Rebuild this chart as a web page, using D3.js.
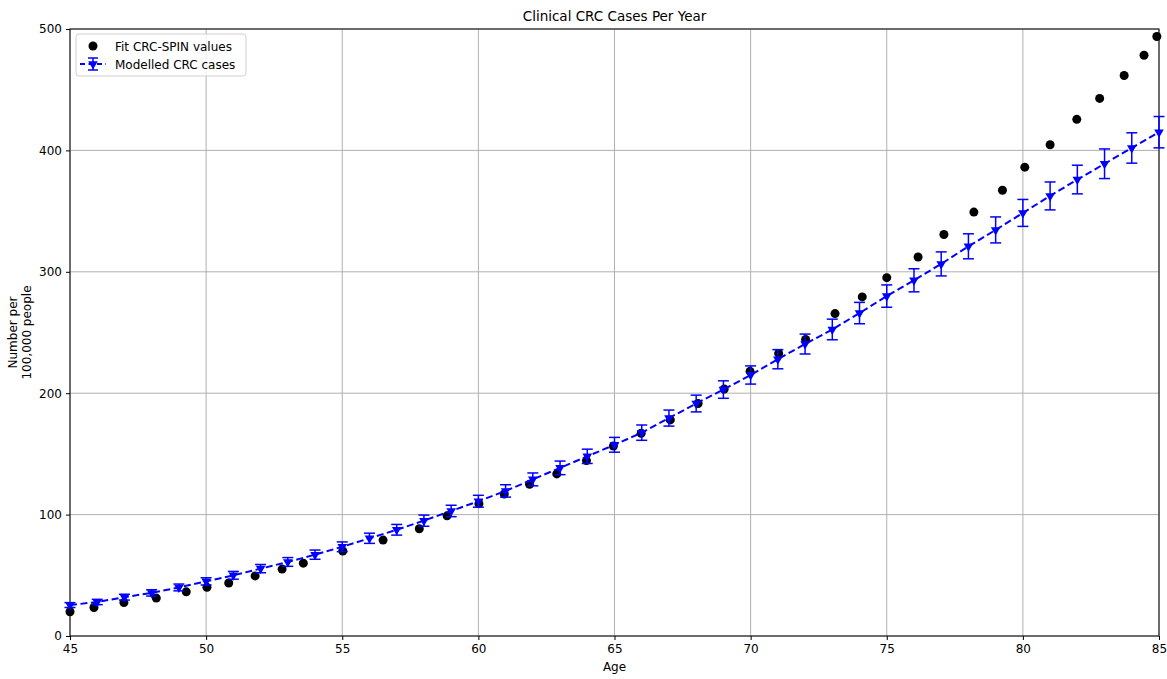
<!DOCTYPE html>
<html>
<head>
<meta charset="utf-8">
<script src="https://cdn.jsdelivr.net/npm/d3@7"></script>
<style>
  html, body { margin: 0; padding: 0; background: #fff; }
  svg { display: block; font-family: "DejaVu Sans", sans-serif; }
</style>
</head>
<body>
<div id="chart"></div>
<script>
// Fit CRC-SPIN values (age, cases per 100,000)
const fitAges = [45.0, 45.88, 46.98, 48.17, 49.27, 50.03, 50.83, 51.8, 52.79, 53.57,
  55.02, 56.5, 57.83, 58.85, 60.02, 60.95, 61.88, 62.88, 63.97, 64.96,
  65.98, 67.05, 68.07, 69.03, 69.98, 71.03, 72.02, 73.1, 74.1, 75.0,
  76.15, 77.1, 78.2, 79.25, 80.07, 81.0, 81.98, 82.82, 83.72, 84.45, 84.92]
const fitValues = [20, 23.5, 27.5, 31.2, 36.4, 40.1, 43.7, 49.5, 55.1, 60,
  70, 79, 88.3, 99, 109, 117, 125, 133.5, 144.5, 156.5,
  167, 178, 191.5, 203.5, 218, 232.8, 244.2, 265.6, 279.3, 295.2,
  312.2, 330.7, 349.2, 367.2, 386.2, 404.7, 425.6, 442.8, 461.7, 478.4, 493.8]

// Modelled CRC cases with error bars
const modelAges = [45, 46, 47, 48, 49, 50, 51, 52, 53, 54, 55, 56, 57, 58, 59, 60,
  61, 62, 63, 64, 65, 66, 67, 68, 69, 70, 71, 72, 73, 74, 75, 76, 77, 78, 79, 80,
  81, 82, 83, 84, 85]
const modelValues = [25.5, 28, 32, 35.5, 40, 45, 50, 55.5, 61, 67, 73.5, 80.5, 87.5, 95, 103, 111,
  119.5, 129, 138.5, 148, 157.5, 167.5, 179.5, 191.5, 203, 215, 228, 240.5, 252.5, 266, 280,
  293, 306.5, 321, 334.5, 348.5, 362.5, 376, 389, 402, 415]
const modelErrors = [2, 2.2, 2.4, 2.6, 2.8, 3, 3.2, 3.4, 3.6, 3.8, 4, 4.2, 4.4, 4.6, 4.7, 4.9,
  5.1, 5.3, 5.6, 5.9, 6.1, 6.3, 6.6, 6.9, 7.2, 7.5, 7.9, 8.2, 8.5, 8.8, 9.2,
  9.5, 9.9, 10.3, 10.7, 11.1, 11.5, 11.8, 12.2, 12.5, 12.9]

const xTicks = [45, 50, 55, 60, 65, 70, 75, 80, 85]
const yTicks = [0, 100, 200, 300, 400, 500]

const W = 1167, H = 679
const margin = { left: 70, right: 8, top: 29, bottom: 43 }
const iw = W - margin.left - margin.right
const ih = H - margin.top - margin.bottom

const svg = d3.select('#chart').append('svg').attr('width', W).attr('height', H)

const x = d3.scaleLinear().domain([45, 85]).range([margin.left, margin.left + iw])
const y = d3.scaleLinear().domain([0, 500]).range([margin.top + ih, margin.top])

// Grid
const grid = svg.append('g').attr('stroke', '#b0b0b0').attr('stroke-width', 1)
xTicks.forEach(t => grid.append('line')
  .attr('x1', x(t)).attr('x2', x(t)).attr('y1', y(0)).attr('y2', y(500)))
yTicks.forEach(t => grid.append('line')
  .attr('x1', x(45)).attr('x2', x(85)).attr('y1', y(t)).attr('y2', y(t)))

// Axes
const xAxis = svg.append('g').attr('transform', `translate(0,${y(0)})`)
  .call(d3.axisBottom(x).tickValues(xTicks).tickSize(4).tickPadding(4))
const yAxis = svg.append('g').attr('transform', `translate(${x(45)},0)`)
  .call(d3.axisLeft(y).tickValues(yTicks).tickSize(4).tickPadding(4))
;[xAxis, yAxis].forEach(a => {
  a.select('.domain').remove()
  a.selectAll('text').attr('font-size', 12).attr('fill', '#000')
    .attr('font-family', '"DejaVu Sans", sans-serif')
  a.selectAll('line').attr('stroke', '#000')
})

// Frame
svg.append('rect')
  .attr('x', x(45)).attr('y', y(500)).attr('width', x(85) - x(45)).attr('height', y(0) - y(500))
  .attr('fill', 'none').attr('stroke', '#000').attr('stroke-width', 1)

const plot = svg.append('g')
const clipId = 'plotclip'
svg.append('clipPath').attr('id', clipId).append('rect')
  .attr('x', x(45) - 8).attr('y', y(500) - 8).attr('width', x(85) - x(45) + 16).attr('height', y(0) - y(500) + 8)

const model = modelAges.map((a, i) => ({ age: a, v: modelValues[i], e: modelErrors[i] }))
const fit = fitAges.map((a, i) => ({ age: a, v: fitValues[i] }))

// Fit points
plot.append('g').selectAll('circle').data(fit).join('circle')
  .attr('cx', d => x(d.age)).attr('cy', d => y(d.v)).attr('r', 4.5).attr('fill', '#000')

// Dashed model line
const line = d3.line().x(d => x(d.age)).y(d => y(d.v))
plot.append('path').datum(model)
  .attr('d', line).attr('fill', 'none').attr('stroke', '#0000ff')
  .attr('stroke-width', 2).attr('stroke-dasharray', '7,3.5')

// Error bars
const eb = plot.append('g').attr('stroke', '#0000ff').attr('stroke-width', 1.5)
model.forEach(d => {
  const cx = x(d.age), t = y(d.v + d.e), b = y(d.v - d.e)
  eb.append('line').attr('x1', cx).attr('x2', cx).attr('y1', t).attr('y2', b)
  eb.append('line').attr('x1', cx - 5.5).attr('x2', cx + 5.5).attr('y1', t).attr('y2', t)
  eb.append('line').attr('x1', cx - 5.5).attr('x2', cx + 5.5).attr('y1', b).attr('y2', b)
})

// Triangle-down markers
const tri = d3.symbol().type(d3.symbolTriangle).size(40)
plot.append('g').selectAll('path').data(model).join('path')
  .attr('d', tri)
  .attr('transform', d => `translate(${x(d.age)},${y(d.v)}) rotate(180)`)
  .attr('fill', '#0000ff')

// Title and labels
svg.append('text').attr('x', x(65)).attr('y', 21).attr('text-anchor', 'middle')
  .attr('font-size', 13.5).text('Clinical CRC Cases Per Year')
svg.append('text').attr('x', x(65)).attr('y', 671).attr('text-anchor', 'middle')
  .attr('font-size', 12).text('Age')
const yl = svg.append('text').attr('transform', `translate(17,${(y(0) + y(500)) / 2}) rotate(-90)`)
  .attr('text-anchor', 'middle').attr('font-size', 12)
yl.append('tspan').attr('x', 0).attr('dy', 0).text('Number per')
yl.append('tspan').attr('x', 0).attr('dy', 14).text('100,000 people')

// Legend
const lg = svg.append('g').attr('transform', `translate(${x(45) + 6},${y(500) + 5})`)
lg.append('rect').attr('width', 170).attr('height', 42).attr('rx', 3)
  .attr('fill', 'rgba(255,255,255,0.8)').attr('stroke', '#d0d0d0')
lg.append('circle').attr('cx', 17).attr('cy', 12).attr('r', 4.5).attr('fill', '#000')
lg.append('text').attr('x', 39).attr('y', 16.5).attr('font-size', 12).text('Fit CRC-SPIN values')
const lk = lg.append('g').attr('transform', 'translate(17,30)')
lk.append('line').attr('x1', -13).attr('x2', 13).attr('stroke', '#0000ff')
  .attr('stroke-width', 2).attr('stroke-dasharray', '5,3.5').attr('stroke-dashoffset', 0)
lk.append('line').attr('y1', -6).attr('y2', 6).attr('stroke', '#0000ff').attr('stroke-width', 1.5)
lk.append('line').attr('x1', -5).attr('x2', 5).attr('y1', -6).attr('y2', -6).attr('stroke', '#0000ff').attr('stroke-width', 1.5)
lk.append('line').attr('x1', -5).attr('x2', 5).attr('y1', 6).attr('y2', 6).attr('stroke', '#0000ff').attr('stroke-width', 1.5)
lk.append('path').attr('d', tri).attr('transform', 'rotate(180)').attr('fill', '#0000ff')
lg.append('text').attr('x', 39).attr('y', 34.5).attr('font-size', 12).text('Modelled CRC cases')
</script>
</body>
</html>
